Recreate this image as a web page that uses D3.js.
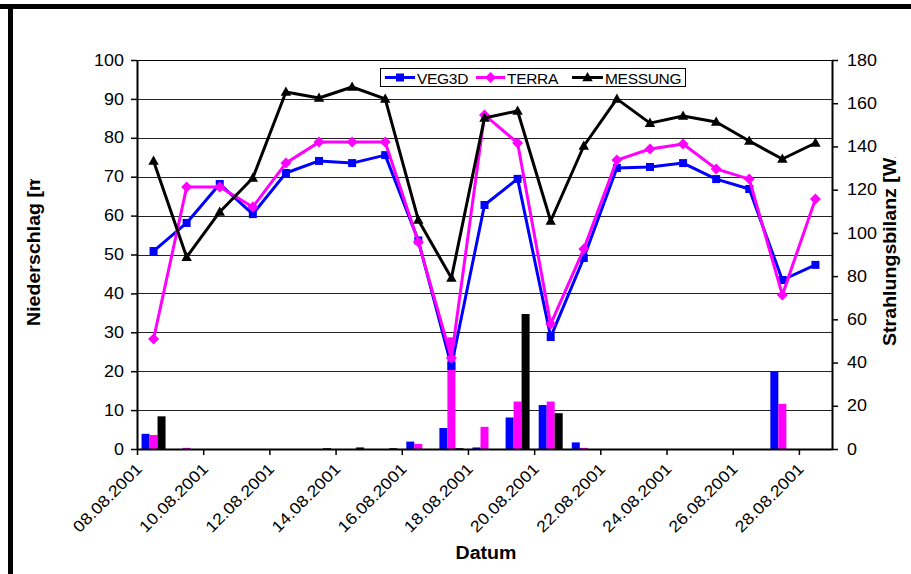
<!DOCTYPE html>
<html><head><meta charset="utf-8">
<script src="https://cdn.jsdelivr.net/npm/d3@7"></script>
<style>
html,body{margin:0;padding:0;background:#fff;}
svg{display:block;font-family:"Liberation Sans",Arial,sans-serif;}
</style></head>
<body>
<svg id="chart" width="911" height="574"></svg>
<script>
// ---- data ----
const dates = ["08.08.2001","09.08.2001","10.08.2001","11.08.2001","12.08.2001","13.08.2001","14.08.2001",
  "15.08.2001","16.08.2001","17.08.2001","18.08.2001","19.08.2001","20.08.2001","21.08.2001",
  "22.08.2001","23.08.2001","24.08.2001","25.08.2001","26.08.2001","27.08.2001","28.08.2001"];
const tickLabels = ["08.08.2001","10.08.2001","12.08.2001","14.08.2001","16.08.2001","18.08.2001",
  "20.08.2001","22.08.2001","24.08.2001","26.08.2001","28.08.2001"];
const seriesNames = ["VEG3D","TERRA","MESSUNG"];
// radiation balance (right axis)
const veg3dRad   = [91.6,104.6,122.6,108.7,127.7,133.3,132.3,136.0,96.5,38.4,112.9,125.0,51.8,88.4,130.0,130.5,132.3,124.9,120.3,78.2,85.2];
const terraRad   = [50.9,121.2,121.2,112.0,132.3,142.0,142.0,142.0,95.8,42.1,154.6,141.6,57.8,92.5,133.7,138.8,141.1,129.6,124.9,71.3,115.7];
const messungRad = [133.3,88.8,109.7,125.4,165.2,162.4,167.5,162.0,106.0,79.1,153.2,156.4,105.5,140.2,162.0,150.8,154.1,151.3,142.5,134.2,141.6];
// precipitation (left axis)
const veg3dPrec   = [3.9,0,0,0,0,0,0,0,1.9,5.4,0.4,8.1,11.3,1.7,0,0,0,0,0,19.8,0];
const terraPrec   = [3.6,0.3,0,0,0,0,0,0,1.3,28.7,5.7,12.2,12.2,0.3,0,0,0,0,0,11.6,0];
const messungPrec = [8.4,0,0,0,0,0.2,0.4,0.2,0,0.2,0,34.7,9.2,0,0,0,0,0,0,0,0];
const leftTicks = [0,10,20,30,40,50,60,70,80,90,100];
const rightTicks = [0,20,40,60,80,100,120,140,160,180];
const colors = {VEG3D:"#0000FF", TERRA:"#FF00FF", MESSUNG:"#000000"};

// ---- layout ----
const L = 137, R = 832, T = 60, B = 449;
const STRETCH = 1.12;
const svg = d3.select("#chart");
const parse = d3.utcParse("%d.%m.%Y");
const days = dates.map(parse);
const x = d3.scaleUtc().domain([days[0], d3.utcDay.offset(days[days.length-1], 1)]).range([L, R]);
const dayW = x(days[1]) - x(days[0]);
const xc = d => x(d) + dayW/2;
const yL = d3.scaleLinear().domain([0,100]).range([B,T]);
const yR = d3.scaleLinear().domain([0,180]).range([B,T]);
const xs = d3.scaleBand().domain(seriesNames).range([-12,12]);

function stretch(sel, f){
  sel.each(function(){
    const n = this; const len = n.getComputedTextLength();
    d3.select(n).attr("textLength", len*(f||STRETCH)).attr("lengthAdjust","spacingAndGlyphs");
  });
}

// frame
svg.append("rect").attr("x",0).attr("y",4).attr("width",911).attr("height",5).attr("fill","#000");
svg.append("rect").attr("x",8).attr("y",4).attr("width",5).attr("height",570).attr("fill","#000");

// gridlines
svg.append("g").selectAll("line").data(leftTicks.filter(v=>v>0)).join("line")
  .attr("x1",L).attr("x2",R).attr("y1",d=>Math.round(yL(d))+0.5).attr("y2",d=>Math.round(yL(d))+0.5)
  .attr("stroke",d=>d===100?"#000":"#222").attr("stroke-width",1);

// bars
const precip = {VEG3D:veg3dPrec, TERRA:terraPrec, MESSUNG:messungPrec};
const barG = svg.append("g");
seriesNames.forEach(s=>{
  barG.append("g").selectAll("rect").data(days.map((d,i)=>({d,v:precip[s][i]}))).join("rect")
    .attr("x",p=>xc(p.d)+xs(s)).attr("width",xs.bandwidth())
    .attr("y",p=>yL(p.v)).attr("height",p=>B-yL(p.v)).attr("fill",colors[s]);
});

// axes
const axL = svg.append("g").attr("transform",`translate(${L},0)`)
  .call(d3.axisLeft(yL).tickValues(leftTicks).tickSize(6).tickSizeOuter(0).tickPadding(7));
const axR = svg.append("g").attr("transform",`translate(${R},0)`)
  .call(d3.axisRight(yR).tickValues(rightTicks).tickSize(6).tickSizeOuter(0).tickPadding(9));
const tickDates = tickLabels.map(parse);
const axB = svg.append("g").attr("transform",`translate(0,${B})`)
  .call(d3.axisBottom(x).tickValues(tickDates).tickSize(6).tickSizeOuter(0).tickFormat(()=>""));
[axL,axR,axB].forEach(a=>{
  a.select(".domain").attr("stroke","#000").attr("stroke-width",2);
  a.selectAll(".tick line").attr("stroke","#000").attr("stroke-width",1.5);
  a.selectAll("text").attr("font-family","Liberation Sans, Arial, sans-serif").attr("font-size",16).attr("fill","#000");
});
stretch(axL.selectAll("text")); stretch(axR.selectAll("text"));
const fmt = d3.utcFormat("%d.%m.%Y");
svg.append("g").selectAll("text").data(tickDates).join("text")
  .attr("transform",d=>`translate(${x(d)+6},470) rotate(-45)`)
  .attr("text-anchor","end").attr("font-size",16).attr("fill","#000")
  .text(d=>fmt(d)).call(stretch);

// titles
const ltG = svg.append("g");
const clipL = svg.append("clipPath").attr("id","clipL");
clipL.append("rect").attr("x",0).attr("y",179).attr("width",80).attr("height",400);
ltG.attr("clip-path","url(#clipL)").append("text")
  .attr("transform","translate(40,326) rotate(-90)").attr("font-size",17.5).attr("font-weight","bold")
  .text("Niederschlag [mm]").call(stretch);
const clipR = svg.append("clipPath").attr("id","clipR");
clipR.append("rect").attr("x",860).attr("y",157).attr("width",51).attr("height",400);
svg.append("g").attr("clip-path","url(#clipR)").append("text")
  .attr("transform","translate(895.5,346) rotate(-90)").attr("font-size",17.5).attr("font-weight","bold")
  .text("Strahlungsbilanz [W/m²]").call(stretch);
svg.append("text").attr("x",486).attr("y",559).attr("text-anchor","middle")
  .attr("font-size",17.5).attr("font-weight","bold").text("Datum").call(stretch);

// lines
const rad = {VEG3D:veg3dRad, TERRA:terraRad, MESSUNG:messungRad};
const markers = {
  VEG3D:"M-4,-4H4V4H-4Z",
  TERRA:"M0,-5.5L5.5,0L0,5.5L-5.5,0Z",
  MESSUNG:"M0,-5.5L5.2,3.8L-5.2,3.8Z"
};
const line = d3.line().x(p=>xc(p.d)).y(p=>yR(p.v));
seriesNames.forEach(s=>{
  const pts = days.map((d,i)=>({d,v:rad[s][i]}));
  svg.append("path").datum(pts).attr("d",line).attr("fill","none")
    .attr("stroke",colors[s]).attr("stroke-width",3).attr("stroke-linejoin","round");
  svg.append("g").selectAll("path").data(pts).join("path")
    .attr("transform",p=>`translate(${xc(p.d)},${yR(p.v)})`).attr("d",markers[s]).attr("fill",colors[s]);
});

// legend
const lg = svg.append("g");
lg.append("rect").attr("x",380.5).attr("y",68.5).attr("width",305).attr("height",18)
  .attr("fill","#fff").attr("stroke","#000").attr("stroke-width",1);
const legPos = [{s:"VEG3D",x0:385,x1:415,tx:417},{s:"TERRA",x0:476,x1:505,tx:507},{s:"MESSUNG",x0:572,x1:603,tx:605}];
legPos.forEach(p=>{
  lg.append("line").attr("x1",p.x0).attr("x2",p.x1).attr("y1",77.5).attr("y2",77.5)
    .attr("stroke",colors[p.s]).attr("stroke-width",3);
  lg.append("path").attr("transform",`translate(${(p.x0+p.x1)/2},77.5)`).attr("d",markers[p.s]).attr("fill",colors[p.s]);
  lg.append("text").attr("x",p.tx).attr("y",83.5).attr("font-size",15.5).attr("fill","#000")
    .attr("letter-spacing",-0.3).text(p.s);
});
</script>
</body></html>
